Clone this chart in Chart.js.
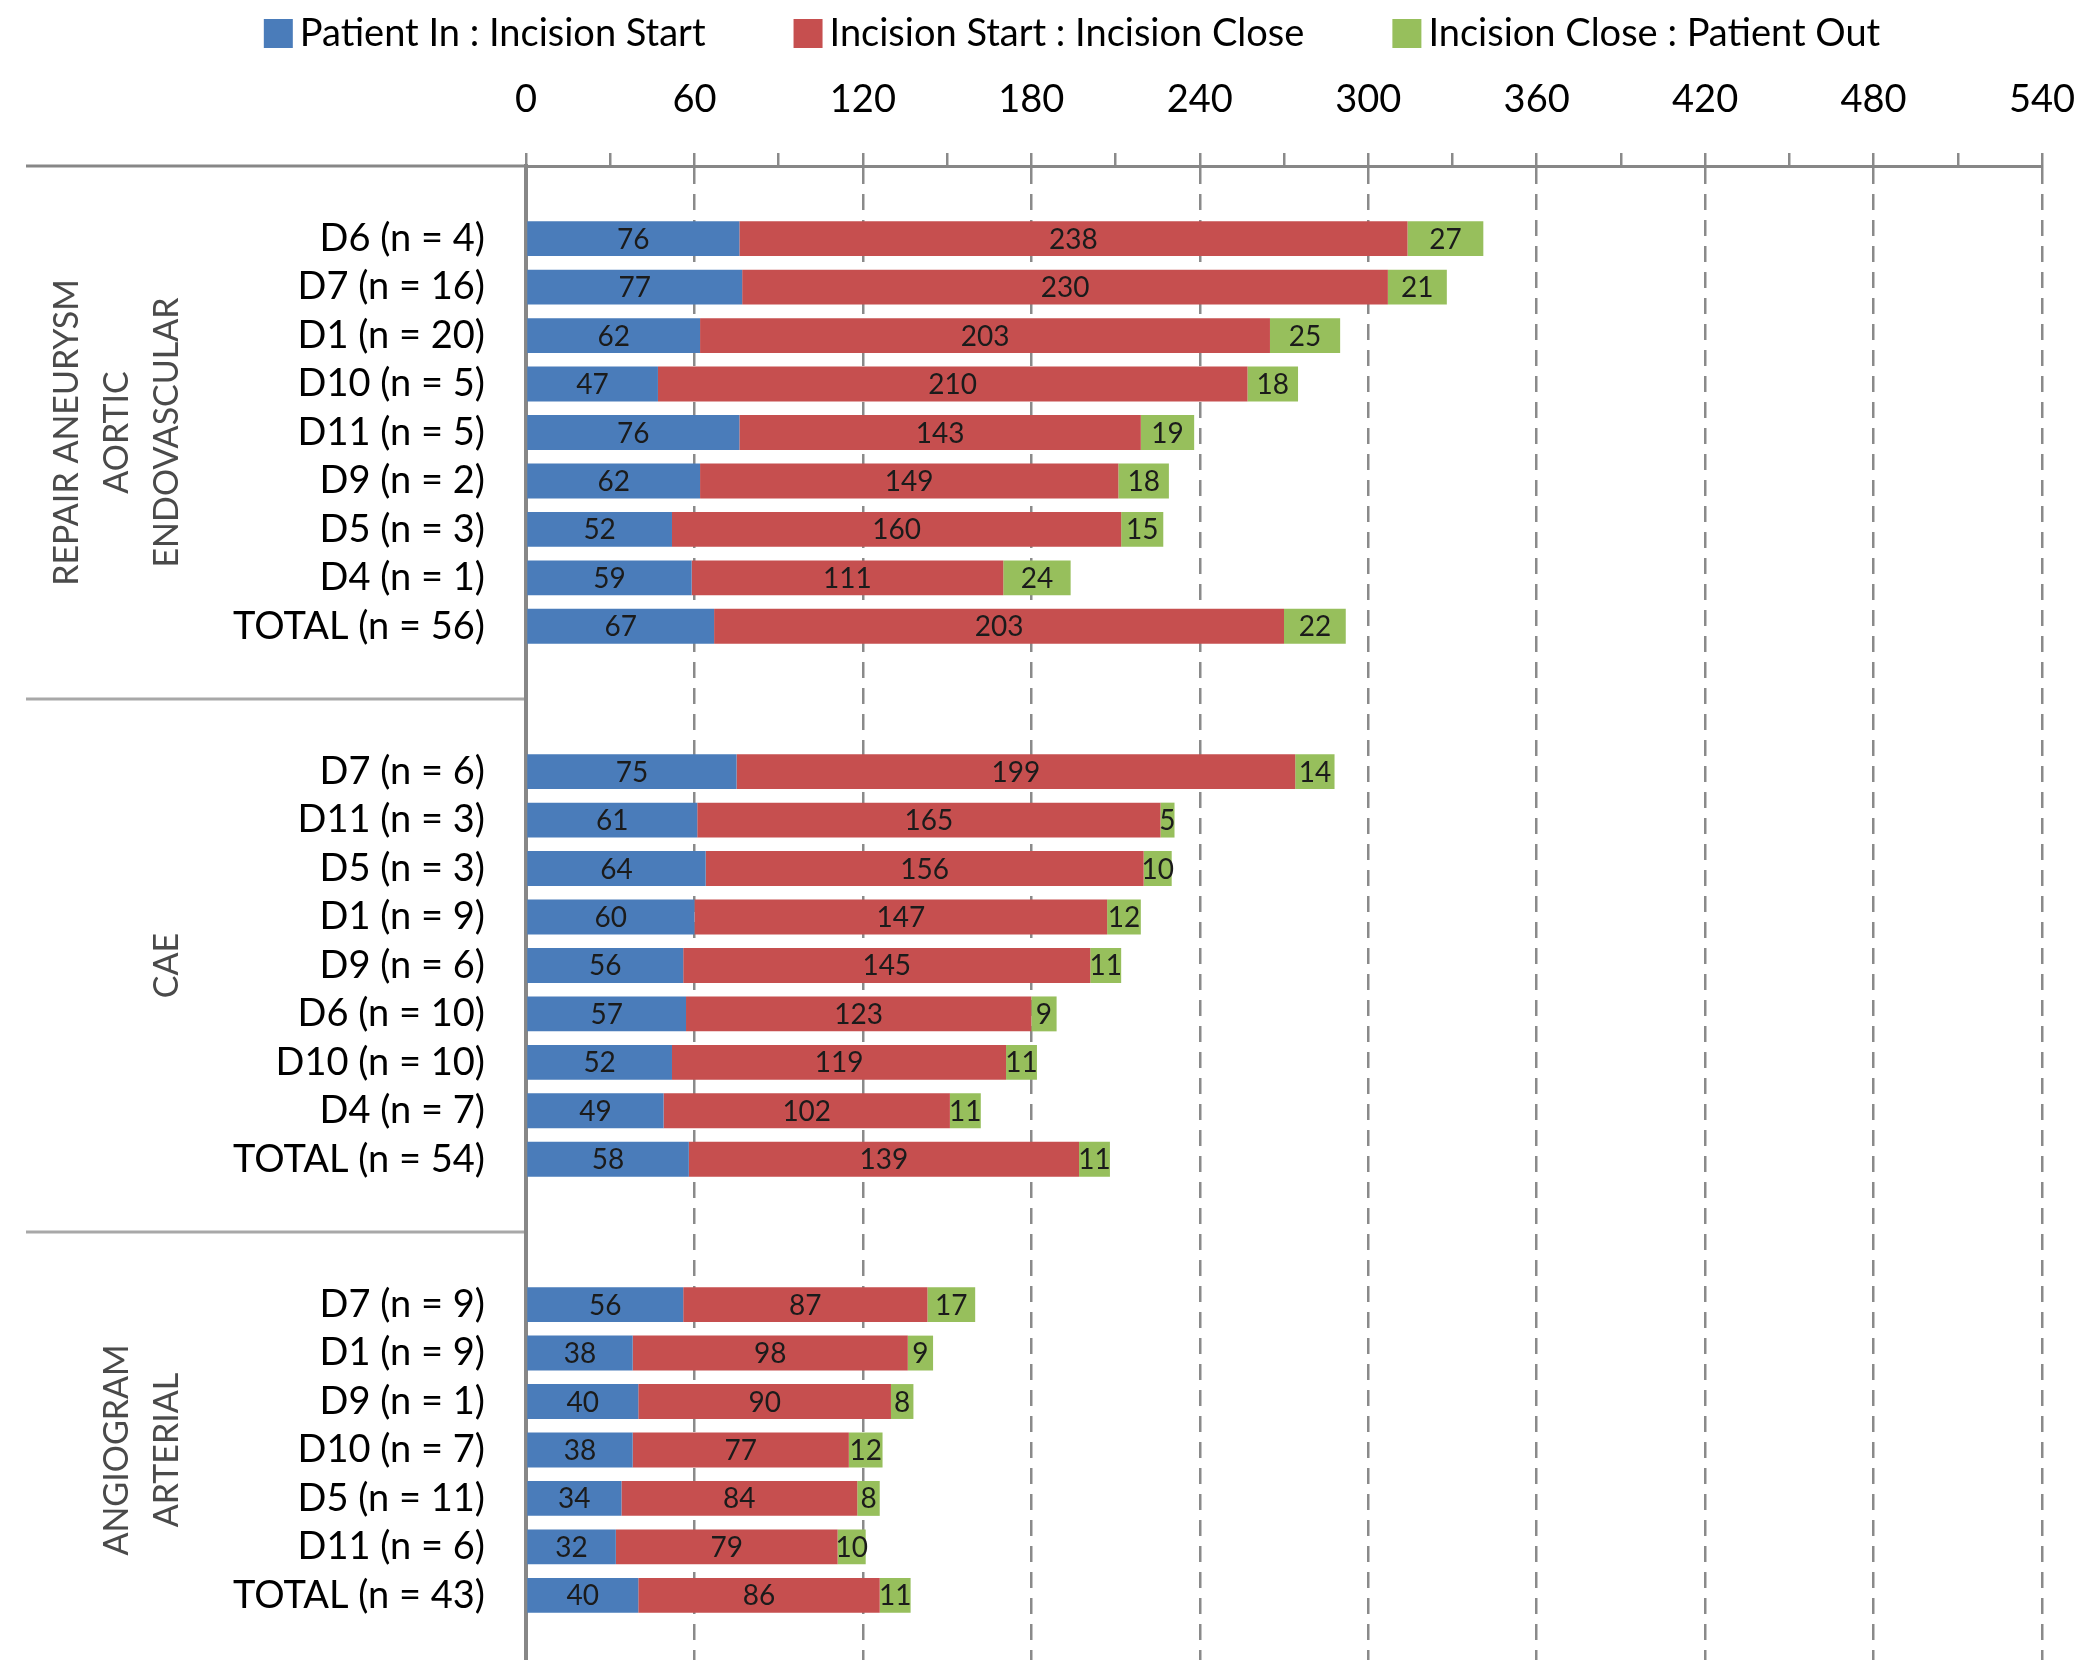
<!DOCTYPE html>
<html>
<head>
<meta charset="utf-8">
<title>Procedure phase times by surgeon</title>
<script src="https://cdn.jsdelivr.net/npm/chart.js@4.4.1/dist/chart.umd.min.js"></script>
<style>
  html, body { margin: 0; padding: 0; background: #fff; overflow: hidden; }
  #wrap { position: relative; width: 2078px; height: 1668px; }
</style>
</head>
<body>
<div id="wrap"><canvas id="phaseChart"></canvas></div>
<script>
// minutes per phase, one stacked bar per surgeon, grouped by procedure
const evarLabels = ['D6 (n = 4)', 'D7 (n = 16)', 'D1 (n = 20)', 'D10 (n = 5)', 'D11 (n = 5)', 'D9 (n = 2)', 'D5 (n = 3)', 'D4 (n = 1)', 'TOTAL (n = 56)'];
const evarIn = [76, 77, 62, 47, 76, 62, 52, 59, 67];
const evarCut = [238, 230, 203, 210, 143, 149, 160, 111, 203];
const evarOut = [27, 21, 25, 18, 19, 18, 15, 24, 22];

const caeLabels = ['D7 (n = 6)', 'D11 (n = 3)', 'D5 (n = 3)', 'D1 (n = 9)', 'D9 (n = 6)', 'D6 (n = 10)', 'D10 (n = 10)', 'D4 (n = 7)', 'TOTAL (n = 54)'];
const caeIn = [75, 61, 64, 60, 56, 57, 52, 49, 58];
const caeCut = [199, 165, 156, 147, 145, 123, 119, 102, 139];
const caeOut = [14, 5, 10, 12, 11, 9, 11, 11, 11];

const angioLabels = ['D7 (n = 9)', 'D1 (n = 9)', 'D9 (n = 1)', 'D10 (n = 7)', 'D5 (n = 11)', 'D11 (n = 6)', 'TOTAL (n = 43)'];
const angioIn = [56, 38, 40, 38, 34, 32, 40];
const angioCut = [87, 98, 90, 77, 84, 79, 86];
const angioOut = [17, 9, 8, 12, 8, 10, 11];

const groupNames = [['REPAIR ANEURYSM', 'AORTIC', 'ENDOVASCULAR'], ['CAE'], ['ANGIOGRAM', 'ARTERIAL']];
const seriesNames = ['Patient In : Incision Start', 'Incision Start : Incision Close', 'Incision Close : Patient Out'];
const seriesColors = ['#4a7cba', '#c64f4f', '#97bf5c'];
const minuteTicks = [0, 60, 120, 180, 240, 300, 360, 420, 480, 540];

const groups = [
  { names: groupNames[0], labels: evarLabels, series: [evarIn, evarCut, evarOut] },
  { names: groupNames[1], labels: caeLabels, series: [caeIn, caeCut, caeOut] },
  { names: groupNames[2], labels: angioLabels, series: [angioIn, angioCut, angioOut] }
];

// build the rows: one empty row on top, two between groups, one at the end
let rowLabels = [];
let rowData = [[], [], []];
let groupRows = [];
function addBlank() {
  rowLabels.push('');
  rowData.forEach(arr => arr.push(null));
}
addBlank();
groups.forEach((g, gi) => {
  if (gi > 0) { addBlank(); addBlank(); }
  const first = rowLabels.length;
  g.labels.forEach((label, i) => {
    rowLabels.push(label);
    for (let k = 0; k < 3; k++) rowData[k].push(g.series[k][i]);
  });
  groupRows.push([first, rowLabels.length - 1]);
});
addBlank();

const FONT = 'Lato';

// values written in the middle of every segment
const segmentLabels = {
  id: 'segmentLabels',
  afterDatasetsDraw(chart) {
    const ctx = chart.ctx;
    ctx.save();
    ctx.font = '28px ' + FONT;
    ctx.fillStyle = '#1b1b1b';
    ctx.textAlign = 'center';
    ctx.textBaseline = 'middle';
    chart.data.datasets.forEach((ds, i) => {
      chart.getDatasetMeta(i).data.forEach((bar, j) => {
        const v = ds.data[j];
        if (v == null) return;
        ctx.fillText(v, (bar.x + bar.base) / 2, bar.y + 1);
      });
    });
    ctx.restore();
  }
};

// top rule, group separators and the rotated procedure names
const groupFrame = {
  id: 'groupFrame',
  afterDraw(chart) {
    const { ctx, chartArea } = chart;
    const y = chart.scales.y;
    ctx.save();
    ctx.strokeStyle = '#878787';
    ctx.lineWidth = 3;
    ctx.beginPath();
    ctx.moveTo(26, chartArea.top);
    ctx.lineTo(chartArea.left, chartArea.top);
    ctx.stroke();

    ctx.strokeStyle = '#a8a8a8';
    groupRows.forEach((rows, gi) => {
      if (gi === 0) return;
      const sy = y.getPixelForValue(rows[0] - 1.5);
      ctx.beginPath();
      ctx.moveTo(26, sy);
      ctx.lineTo(chartArea.left - 2, sy);
      ctx.stroke();
    });

    ctx.font = '34px ' + FONT;
    ctx.fillStyle = '#4a4a4a';
    ctx.textAlign = 'center';
    ctx.textBaseline = 'middle';
    groupRows.forEach((rows, gi) => {
      const names = groups[gi].names;
      const cy = y.getPixelForValue((rows[0] + rows[1]) / 2);
      names.forEach((name, li) => {
        const cx = 167 - (names.length - 1 - li) * 50;
        ctx.save();
        ctx.translate(cx, cy);
        ctx.rotate(-Math.PI / 2);
        ctx.fillText(name, 0, 0);
        ctx.restore();
      });
    });
    ctx.restore();
  }
};

// legend row above the axis
const topLegend = {
  id: 'topLegend',
  afterDraw(chart) {
    const ctx = chart.ctx;
    const box = 29, gap = 7, spacing = 88;
    ctx.save();
    ctx.font = '38px ' + FONT;
    ctx.textBaseline = 'middle';
    const widths = seriesNames.map(n => box + gap + ctx.measureText(n).width);
    const total = widths.reduce((a, b) => a + b, 0) + spacing * (widths.length - 1);
    let x = 1072 - total / 2;
    seriesNames.forEach((n, i) => {
      ctx.fillStyle = seriesColors[i];
      ctx.fillRect(x, 19, box, box);
      ctx.fillStyle = '#000';
      ctx.fillText(n, x + box + gap, 34);
      x += widths[i] + spacing;
    });
    ctx.restore();
  }
};

function drawChart() {
  Chart.defaults.font.family = FONT;
  Chart.defaults.color = '#000';
  const ctx = document.getElementById('phaseChart').getContext('2d');
  return new Chart(ctx, {
    type: 'bar',
    data: {
      labels: rowLabels,
      datasets: seriesNames.map((name, k) => ({
        label: name,
        data: rowData[k],
        backgroundColor: seriesColors[k],
        borderWidth: 0,
        barPercentage: 0.72,
        categoryPercentage: 1
      }))
    },
    options: {
      indexAxis: 'y',
      responsive: true,
      maintainAspectRatio: false,
      animation: false,
      layout: { padding: { left: 0, right: 36, top: 0, bottom: 0 } },
      plugins: {
        legend: { display: false },
        tooltip: { enabled: false }
      },
      scales: {
        x: {
          position: 'top',
          stacked: true,
          min: 0,
          max: 540,
          // fixed header height; label overhang is covered by the right padding
          afterFit: s => { s.height = 166; s.paddingLeft = 0; s.paddingRight = 0; },
          ticks: {
            stepSize: 30,
            autoSkip: false,
            maxRotation: 0,
            padding: 30,
            font: { size: 38 },
            callback: v => minuteTicks.includes(v) ? v : ''
          },
          grid: {
            color: c => minuteTicks.includes(c.tick && c.tick.value) ? '#8a8a8a' : 'rgba(0,0,0,0)',
            lineWidth: 2.5,
            tickColor: '#8a8a8a',
            tickLength: 13,
            tickWidth: 2.5
          },
          border: { color: '#878787', width: 3, dash: [16, 10] }
        },
        y: {
          stacked: true,
          afterFit: s => { s.width = 526; s.paddingTop = 0; s.paddingBottom = 0; },
          ticks: { padding: 41, autoSkip: false, font: { size: 38 } },
          grid: { display: false, drawTicks: false },
          border: { color: '#878787', width: 4 }
        }
      }
    },
    plugins: [segmentLabels, groupFrame, topLegend]
  });
}

document.fonts.load('38px ' + FONT).then(drawChart, drawChart);
</script>
</body>
</html>
